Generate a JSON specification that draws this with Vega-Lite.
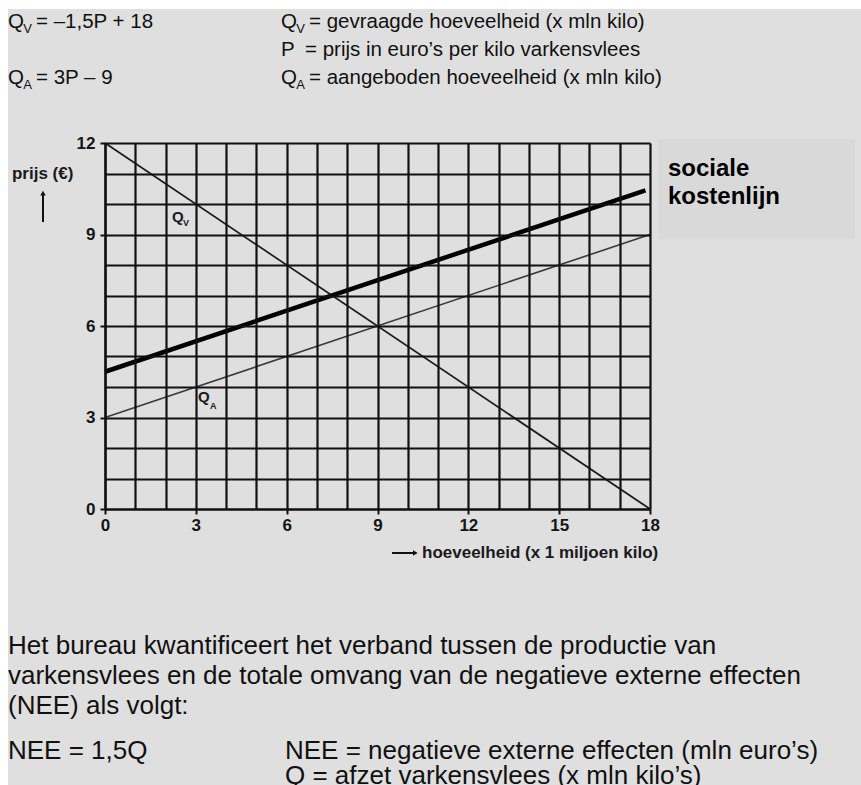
{
  "$schema": "https://vega.github.io/schema/vega-lite/v6.json",
  "width": 545,
  "height": 366,
  "autosize": {"type": "none"},
  "padding": {"left": 105, "top": 143, "right": 211, "bottom": 276},
  "background": "#ffffff",
  "config": {"view": {"stroke": "#111111", "strokeWidth": 2}, "font": "Liberation Sans"},
  "layer": [
    {
      "data": {"values": [{"q": -3.204, "q2": 25.2, "p": 16.39, "p2": -9.2}]},
      "mark": {"type": "rect", "color": "#dfdfdf"},
      "encoding": {
        "x": {
          "field": "q", "type": "quantitative",
          "scale": {"domain": [0, 18], "nice": false, "zero": false},
          "axis": {
            "values": [0,1,2,3,4,5,6,7,8,9,10,11,12,13,14,15,16,17,18],
            "tickCount": 100, "format": "d",
            "grid": true, "gridColor": "#111111", "gridWidth": 2.2, "gridOpacity": 1,
            "domain": true, "domainColor": "#111111", "domainWidth": 2.2,
            "ticks": true, "tickColor": "#111111", "tickWidth": 2, "tickSize": 5,
            "tickOpacity": {"condition": {"test": "datum.value % 3 === 0", "value": 1}, "value": 0},
            "labelExpr": "datum.value % 3 === 0 ? datum.label : ''",
            "labelFont": "Liberation Sans", "labelFontSize": 17, "labelFontWeight": "bold",
            "labelColor": "#151515", "labelPadding": 3, "labelOverlap": false, "labelFlush": false,
            "title": null, "zindex": 1
          }
        },
        "x2": {"field": "q2"},
        "y": {
          "field": "p", "type": "quantitative",
          "scale": {"domain": [0, 12], "nice": false, "zero": false},
          "axis": {
            "values": [0,1,2,3,4,5,6,7,8,9,10,11,12],
            "tickCount": 100, "format": "d",
            "grid": true, "gridColor": "#111111", "gridWidth": 2.2, "gridOpacity": 1,
            "domain": true, "domainColor": "#111111", "domainWidth": 2.2,
            "ticks": true, "tickColor": "#111111", "tickWidth": 2, "tickSize": 5,
            "tickOpacity": {"condition": {"test": "datum.value % 3 === 0", "value": 1}, "value": 0},
            "labelExpr": "datum.value % 3 === 0 ? datum.label : ''",
            "labelFont": "Liberation Sans", "labelFontSize": 17, "labelFontWeight": "bold",
            "labelColor": "#151515", "labelPadding": 5, "labelOverlap": false, "labelFlush": false,
            "title": null, "zindex": 1
          }
        },
        "y2": {"field": "p2"}
      }
    },
    {
      "data": {"values": [{"q": 18.264, "q2": 24.77, "p": 12.131, "p2": 8.852}]},
      "mark": {"type": "rect", "color": "#d9d9d9"},
      "encoding": {
        "x": {"field": "q", "type": "quantitative"},
        "x2": {"field": "q2"},
        "y": {"field": "p", "type": "quantitative"},
        "y2": {"field": "p2"}
      }
    },
    {
      "data": {"values": [{"q": 0, "p": 12}, {"q": 18, "p": 0}]},
      "mark": {"type": "line", "color": "#1a1a1a", "strokeWidth": 1.7},
      "encoding": {"x": {"field": "q", "type": "quantitative"}, "y": {"field": "p", "type": "quantitative"}}
    },
    {
      "data": {"values": [{"q": 0, "p": 3}, {"q": 18, "p": 9}]},
      "mark": {"type": "line", "color": "#3a3a3a", "strokeWidth": 1.6},
      "encoding": {"x": {"field": "q", "type": "quantitative"}, "y": {"field": "p", "type": "quantitative"}}
    },
    {
      "data": {"values": [{"q": 0, "p": 4.5}, {"q": 17.85, "p": 10.45}]},
      "mark": {"type": "line", "color": "#000000", "strokeWidth": 4.5},
      "encoding": {"x": {"field": "q", "type": "quantitative"}, "y": {"field": "p", "type": "quantitative"}}
    },
    {
      "data": {"values": [{"q": -2.048, "p": 9.41, "p2": 10.3}]},
      "mark": {"type": "rule", "color": "#111111", "strokeWidth": 2},
      "encoding": {"x": {"field": "q", "type": "quantitative"}, "y": {"field": "p", "type": "quantitative"}, "y2": {"field": "p2"}}
    },
    {
      "data": {"values": [{"q": 9.48, "q2": 10.2, "p": -1.443}]},
      "mark": {"type": "rule", "color": "#111111", "strokeWidth": 2},
      "encoding": {"x": {"field": "q", "type": "quantitative"}, "x2": {"field": "q2"}, "y": {"field": "p", "type": "quantitative"}}
    },
    {
      "data": {"values": [{"q": -2.048, "p": 10.36, "dir": "up"}, {"q": 10.25, "p": -1.443, "dir": "right"}]},
      "mark": {"type": "point", "filled": true, "color": "#111111", "size": 30, "opacity": 1},
      "encoding": {
        "x": {"field": "q", "type": "quantitative"},
        "y": {"field": "p", "type": "quantitative"},
        "shape": {"field": "dir", "type": "nominal", "scale": {"domain": ["up", "right"], "range": ["triangle-up", "triangle-right"]}, "legend": null}
      }
    },
    {
      "data": {"values": [
        {"q": -3.204, "p": 15.77, "t": "Q"},
        {"q": -2.279, "p": 15.77, "t": "= –1,5P + 18"},
        {"q": 5.813, "p": 15.77, "t": "Q"},
        {"q": 6.738, "p": 15.77, "t": "= gevraagde hoeveelheid (x mln kilo)"},
        {"q": 5.813, "p": 14.85, "t": "P"},
        {"q": 6.605, "p": 14.85, "t": "= prijs in euro’s per kilo varkensvlees"},
        {"q": -3.204, "p": 13.93, "t": "Q"},
        {"q": -2.279, "p": 13.93, "t": "= 3P – 9"},
        {"q": 5.813, "p": 13.93, "t": "Q"},
        {"q": 6.738, "p": 13.93, "t": "= aangeboden hoeveelheid (x mln kilo)"}
      ]},
      "mark": {"type": "text", "align": "left", "baseline": "alphabetic", "font": "Liberation Sans", "fontSize": 20.5, "color": "#111111"},
      "encoding": {"x": {"field": "q", "type": "quantitative"}, "y": {"field": "p", "type": "quantitative"}, "text": {"field": "t"}}
    },
    {
      "data": {"values": [
        {"q": -3.204, "p": -4.75, "t": "Het bureau kwantificeert het verband tussen de productie van"},
        {"q": -3.204, "p": -5.735, "t": "varkensvlees en de totale omvang van de negatieve externe effecten"},
        {"q": -3.204, "p": -6.72, "t": "(NEE) als volgt:"},
        {"q": -3.204, "p": -8.2, "t": "NEE = 1,5Q"},
        {"q": 5.945, "p": -8.2, "t": "NEE = negatieve externe effecten (mln euro’s)"},
        {"q": 5.945, "p": -9.0, "t": "Q = afzet varkensvlees (x mln kilo’s)"}
      ]},
      "mark": {"type": "text", "align": "left", "baseline": "alphabetic", "font": "Liberation Sans", "fontSize": 26, "color": "#111111"},
      "encoding": {"x": {"field": "q", "type": "quantitative"}, "y": {"field": "p", "type": "quantitative"}, "text": {"field": "t"}}
    },
    {
      "data": {"values": [
        {"q": -2.7, "p": 15.61, "t": "V"},
        {"q": 6.316, "p": 15.61, "t": "V"},
        {"q": -2.7, "p": 13.77, "t": "A"},
        {"q": 6.316, "p": 13.77, "t": "A"}
      ]},
      "mark": {"type": "text", "align": "left", "baseline": "alphabetic", "font": "Liberation Sans", "fontSize": 13, "color": "#111111"},
      "encoding": {"x": {"field": "q", "type": "quantitative"}, "y": {"field": "p", "type": "quantitative"}, "text": {"field": "t"}}
    },
    {
      "data": {"values": [
        {"q": 18.594, "p": 10.918, "t": "sociale"},
        {"q": 18.594, "p": 10.0, "t": "kostenlijn"}
      ]},
      "mark": {"type": "text", "align": "left", "baseline": "alphabetic", "font": "Liberation Sans", "fontWeight": "bold", "fontSize": 24, "color": "#000000"},
      "encoding": {"x": {"field": "q", "type": "quantitative"}, "y": {"field": "p", "type": "quantitative"}, "text": {"field": "t"}}
    },
    {
      "data": {"values": [
        {"q": -3.072, "p": 10.82, "t": "prijs (€)"},
        {"q": 10.47, "p": -1.607, "t": "hoeveelheid (x 1 miljoen kilo)"}
      ]},
      "mark": {"type": "text", "align": "left", "baseline": "alphabetic", "font": "Liberation Sans", "fontWeight": "bold", "fontSize": 17, "color": "#1a1a1a"},
      "encoding": {"x": {"field": "q", "type": "quantitative"}, "y": {"field": "p", "type": "quantitative"}, "text": {"field": "t"}}
    },
    {
      "data": {"values": [
        {"q": 2.213, "p": 9.41, "t": "Q"},
        {"q": 3.072, "p": 3.508, "t": "Q"}
      ]},
      "mark": {"type": "text", "align": "left", "baseline": "alphabetic", "font": "Liberation Sans", "fontWeight": "bold", "fontSize": 15, "color": "#1a1a1a"},
      "encoding": {"x": {"field": "q", "type": "quantitative"}, "y": {"field": "p", "type": "quantitative"}, "text": {"field": "t"}}
    },
    {
      "data": {"values": [
        {"q": 2.576, "p": 9.28, "t": "V"},
        {"q": 3.468, "p": 3.279, "t": "A"}
      ]},
      "mark": {"type": "text", "align": "left", "baseline": "alphabetic", "font": "Liberation Sans", "fontWeight": "bold", "fontSize": 9, "color": "#1a1a1a"},
      "encoding": {"x": {"field": "q", "type": "quantitative"}, "y": {"field": "p", "type": "quantitative"}, "text": {"field": "t"}}
    }
  ]
}
